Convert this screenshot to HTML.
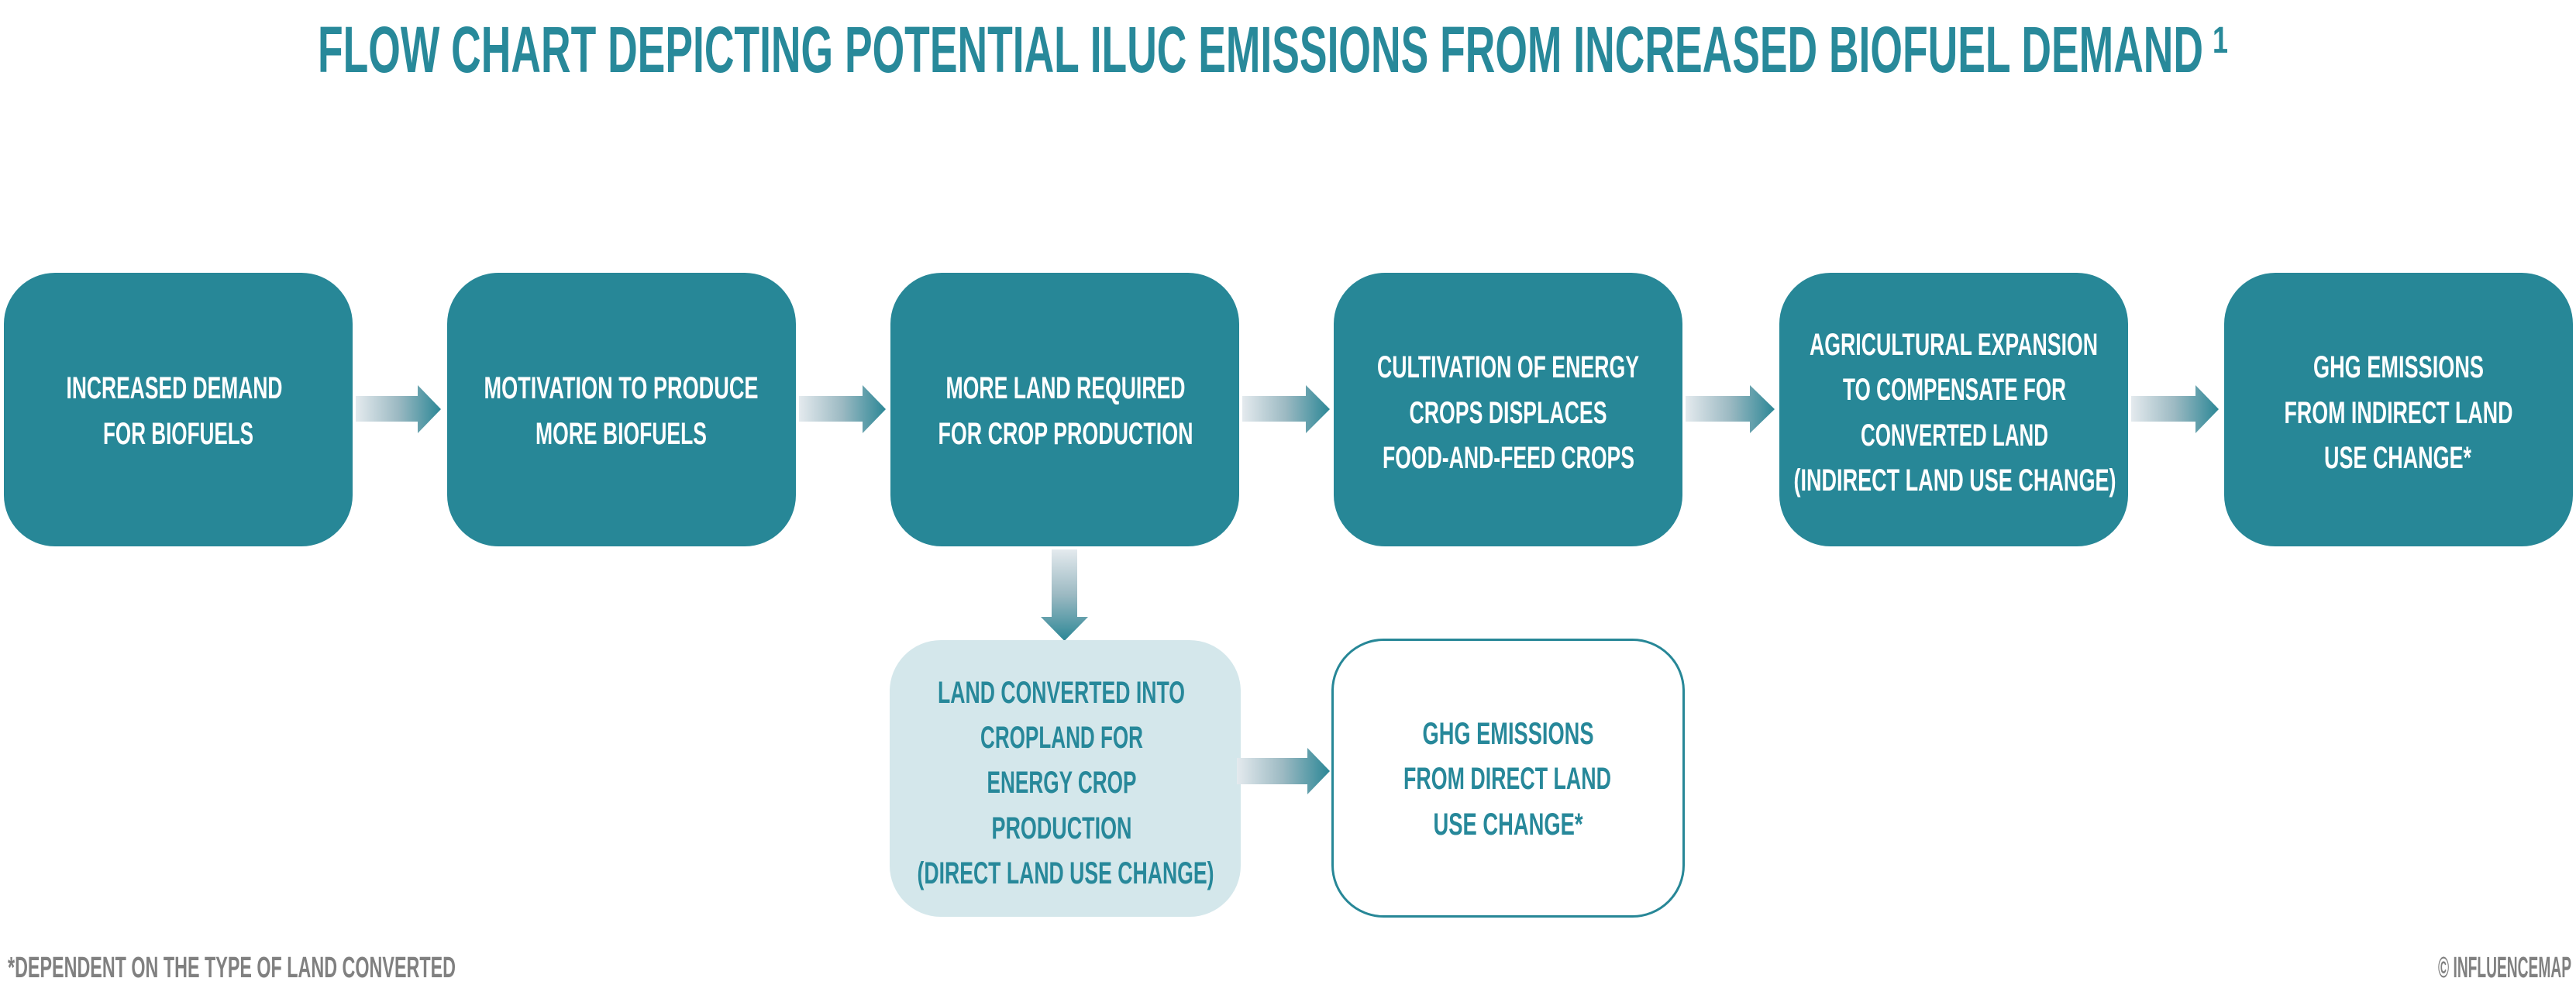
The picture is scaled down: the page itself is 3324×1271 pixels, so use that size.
<!DOCTYPE html>
<html>
<head>
<meta charset="utf-8">
<style>
  html, body { margin:0; padding:0; background:#ffffff; }
  body { width:3324px; height:1271px; overflow:hidden; }
  svg { display:block; }
  text { font-family: "Liberation Sans", "DejaVu Sans", sans-serif; font-weight:bold; }
  .w { fill:#ffffff; font-size:40px; }
  .t { fill:#27889a; font-size:40px; }
</style>
</head>
<body>
<svg width="3324" height="1271" viewBox="0 0 3324 1271" xmlns="http://www.w3.org/2000/svg">
  <defs>
    <linearGradient id="gh" x1="0" y1="0" x2="1" y2="0">
      <stop offset="0" stop-color="#e4eaee"/>
      <stop offset="0.5" stop-color="#9bb9c2"/>
      <stop offset="1" stop-color="#2c8796"/>
    </linearGradient>
    <linearGradient id="gv" x1="0" y1="0" x2="0" y2="1">
      <stop offset="0" stop-color="#e4eaee"/>
      <stop offset="0.5" stop-color="#9bb9c2"/>
      <stop offset="1" stop-color="#2c8796"/>
    </linearGradient>
  </defs>

  <!-- Title -->
  <text x="410" y="93" font-size="84" fill="#28899a" textLength="2433" lengthAdjust="spacingAndGlyphs">FLOW CHART DEPICTING POTENTIAL ILUC EMISSIONS FROM INCREASED BIOFUEL DEMAND</text>
  <text x="2855" y="68" font-size="48" fill="#28899a" textLength="20" lengthAdjust="spacingAndGlyphs">1</text>

  <!-- Top row boxes -->
  <rect x="5" y="352" width="450" height="353" rx="66" ry="66" fill="#278797"/>
  <rect x="577" y="352" width="450" height="353" rx="66" ry="66" fill="#278797"/>
  <rect x="1149" y="352" width="450" height="353" rx="66" ry="66" fill="#278797"/>
  <rect x="1721" y="352" width="450" height="353" rx="66" ry="66" fill="#278797"/>
  <rect x="2296" y="352" width="450" height="353" rx="66" ry="66" fill="#278797"/>
  <rect x="2870" y="352" width="450" height="353" rx="66" ry="66" fill="#278797"/>

  <!-- Horizontal arrows (top row) -->
  <polygon points="459,511 539,511 539,497 569,528 539,559 539,544 459,544" fill="url(#gh)"/>
  <polygon points="1031,511 1113,511 1113,497 1143,528 1113,559 1113,544 1031,544" fill="url(#gh)"/>
  <polygon points="1603,511 1685,511 1685,497 1716,528 1685,559 1685,544 1603,544" fill="url(#gh)"/>
  <polygon points="2175,511 2258,511 2258,497 2290,528 2258,559 2258,544 2175,544" fill="url(#gh)"/>
  <polygon points="2750,511 2833,511 2833,497 2863,528 2833,559 2833,544 2750,544" fill="url(#gh)"/>

  <!-- Down arrow -->
  <polygon points="1357,709 1390,709 1390,796 1404,796 1373.5,827 1343,796 1357,796" fill="url(#gv)"/>

  <!-- Lower boxes -->
  <rect x="1148" y="826" width="453" height="357" rx="66" ry="66" fill="#d4e7eb"/>
  <rect x="1719.5" y="825.5" width="453" height="357" rx="66" ry="66" fill="#ffffff" stroke="#278797" stroke-width="3"/>

  <!-- Lower arrow -->
  <polygon points="1596,978 1687,978 1687,965 1716,995 1687,1025 1687,1012 1596,1012" fill="url(#gh)"/>

  <!-- Box 1 -->
  <text class="w" x="225" y="514" text-anchor="middle" textLength="279" lengthAdjust="spacingAndGlyphs">INCREASED DEMAND</text>
  <text class="w" x="230" y="573" text-anchor="middle" textLength="194" lengthAdjust="spacingAndGlyphs">FOR BIOFUELS</text>

  <!-- Box 2 -->
  <text class="w" x="801.5" y="514" text-anchor="middle" textLength="354" lengthAdjust="spacingAndGlyphs">MOTIVATION TO PRODUCE</text>
  <text class="w" x="801.5" y="573" text-anchor="middle" textLength="221" lengthAdjust="spacingAndGlyphs">MORE BIOFUELS</text>

  <!-- Box 3 -->
  <text class="w" x="1375" y="514" text-anchor="middle" textLength="309" lengthAdjust="spacingAndGlyphs">MORE LAND REQUIRED</text>
  <text class="w" x="1375" y="573" text-anchor="middle" textLength="329" lengthAdjust="spacingAndGlyphs">FOR CROP PRODUCTION</text>

  <!-- Box 4 -->
  <text class="w" x="1946" y="487" text-anchor="middle" textLength="338" lengthAdjust="spacingAndGlyphs">CULTIVATION OF ENERGY</text>
  <text class="w" x="1946" y="546" text-anchor="middle" textLength="255" lengthAdjust="spacingAndGlyphs">CROPS DISPLACES</text>
  <text class="w" x="1946.5" y="604" text-anchor="middle" textLength="325" lengthAdjust="spacingAndGlyphs">FOOD-AND-FEED CROPS</text>

  <!-- Box 5 -->
  <text class="w" x="2521" y="458" text-anchor="middle" textLength="372" lengthAdjust="spacingAndGlyphs">AGRICULTURAL EXPANSION</text>
  <text class="w" x="2522" y="516" text-anchor="middle" textLength="288" lengthAdjust="spacingAndGlyphs">TO COMPENSATE FOR</text>
  <text class="w" x="2522" y="575" text-anchor="middle" textLength="242" lengthAdjust="spacingAndGlyphs">CONVERTED LAND</text>
  <text class="w" x="2522.5" y="633" text-anchor="middle" textLength="416" lengthAdjust="spacingAndGlyphs">(INDIRECT LAND USE CHANGE)</text>

  <!-- Box 6 -->
  <text class="w" x="3095" y="487" text-anchor="middle" textLength="220" lengthAdjust="spacingAndGlyphs">GHG EMISSIONS</text>
  <text class="w" x="3095" y="546" text-anchor="middle" textLength="295" lengthAdjust="spacingAndGlyphs">FROM INDIRECT LAND</text>
  <text class="w" x="3094" y="604" text-anchor="middle" textLength="190" lengthAdjust="spacingAndGlyphs">USE CHANGE*</text>

  <!-- Lower left box -->
  <text class="t" x="1369.5" y="907" text-anchor="middle" textLength="319" lengthAdjust="spacingAndGlyphs">LAND CONVERTED INTO</text>
  <text class="t" x="1370" y="965" text-anchor="middle" textLength="210" lengthAdjust="spacingAndGlyphs">CROPLAND FOR</text>
  <text class="t" x="1370" y="1023" text-anchor="middle" textLength="193" lengthAdjust="spacingAndGlyphs">ENERGY CROP</text>
  <text class="t" x="1370" y="1082" text-anchor="middle" textLength="181" lengthAdjust="spacingAndGlyphs">PRODUCTION</text>
  <text class="t" x="1375" y="1140" text-anchor="middle" textLength="383" lengthAdjust="spacingAndGlyphs">(DIRECT LAND USE CHANGE)</text>

  <!-- Lower right box -->
  <text class="t" x="1946" y="960" text-anchor="middle" textLength="221" lengthAdjust="spacingAndGlyphs">GHG EMISSIONS</text>
  <text class="t" x="1945" y="1018" text-anchor="middle" textLength="268" lengthAdjust="spacingAndGlyphs">FROM DIRECT LAND</text>
  <text class="t" x="1946" y="1077" text-anchor="middle" textLength="193" lengthAdjust="spacingAndGlyphs">USE CHANGE*</text>

  <!-- Footer -->
  <text x="10" y="1261" font-size="38" fill="#808080" textLength="578" lengthAdjust="spacingAndGlyphs">*DEPENDENT ON THE TYPE OF LAND CONVERTED</text>
  <text x="3146" y="1261" font-size="38" fill="#808080" textLength="172" lengthAdjust="spacingAndGlyphs">© INFLUENCEMAP</text>
</svg>
</body>
</html>
